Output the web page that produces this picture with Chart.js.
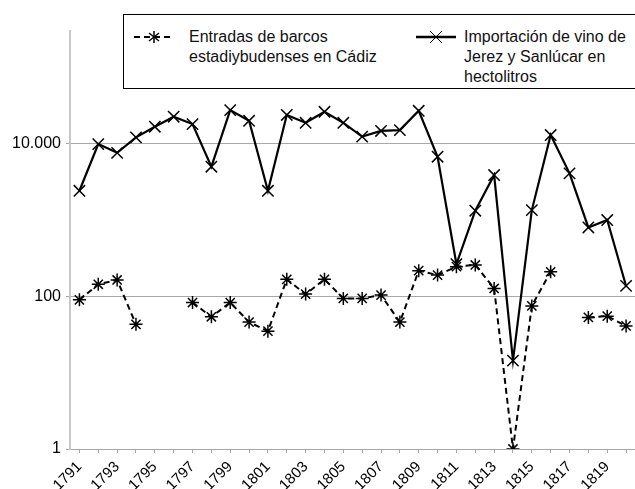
<!DOCTYPE html>
<html>
<head>
<meta charset="utf-8">
<script src="https://cdn.jsdelivr.net/npm/chart.js@4"></script>
<style>
  html, body { margin: 0; padding: 0; background: #fff; overflow: hidden; }
  #wrap { position: relative; width: 635px; height: 489px; overflow: hidden; }
  #myChart { position: absolute; left: 0; top: 0; }
  #legend {
    position: absolute; left: 123px; top: 14px; width: 530px; height: 73px;
    border: 1px solid #000; background: #fff;
    font-family: "Liberation Sans", Arial, sans-serif; font-size: 16px; line-height: 20px; color: #111;
  }
  .item { position: absolute; top: 12px; }
  .item svg { position: absolute; top: 0; }
  .item span { position: absolute; top: 0; white-space: nowrap; }
</style>
</head>
<body>
<div id="wrap">
  <canvas id="myChart" width="645" height="520"></canvas>
  <div id="legend">
    <div class="item" style="left:9px">
      <svg width="42" height="20" style="left:0">
        <line x1="1" y1="10" x2="41" y2="10" stroke="#000" stroke-width="2" stroke-dasharray="6,4"/>
        <g stroke="#000" stroke-width="1.5">
          <line x1="21" y1="4" x2="21" y2="16"/>
          <line x1="16" y1="6" x2="26" y2="14"/>
          <line x1="26" y1="6" x2="16" y2="14"/>
        </g>
      </svg>
      <span style="left:56px">Entradas de barcos<br>estadiybudenses en Cádiz</span>
    </div>
    <div class="item" style="left:291px">
      <svg width="42" height="20" style="left:0">
        <line x1="1" y1="10" x2="41" y2="10" stroke="#000" stroke-width="2.5"/>
        <g stroke="#000" stroke-width="1">
          <line x1="15" y1="4" x2="27" y2="16"/>
          <line x1="27" y1="4" x2="15" y2="16"/>
        </g>
      </svg>
      <span style="left:49px">Importación de vino de<br>Jerez y Sanlúcar en<br>hectolitros</span>
    </div>
  </div>
</div>
<script>
// years on the x axis
const years = ['1791','1792','1793','1794','1795','1796','1797','1798','1799','1800',
               '1801','1802','1803','1804','1805','1806','1807','1808','1809','1810',
               '1811','1812','1813','1814','1815','1816','1817','1818','1819','1820'];

// ships entering Cadiz (dashed)
const ships = [90, 144, 164, 43, null, null, 83, 54, 83, 46,
               35, 167, 107, 167, 94, 94, 104, 46, 217, 190,
               245, 258, 127, 1, 75, 210, null, 53, 55, 41];

// wine imports in hectolitres (solid)
const wine = [2420, 9900, 7600, 12100, 16700, 22600, 18100, 5000, 27600, 20000,
              2420, 23800, 18800, 26200, 18800, 12400, 14700, 15100, 27000, 6760,
              265, 1325, 3890, 14.4, 1350, 13000, 4090, 800, 1000, 137];

const yTicks = [1, 100, 10000];
const yTickLabels = ['1', '100', '10.000'];

Chart.defaults.font.family = '"Liberation Sans", Arial, sans-serif';
Chart.defaults.color = '#000';

const ctx = document.getElementById('myChart');
var chart = new Chart(ctx, {
    type: 'line',
    data: {
        labels: years,
        datasets: [
            {
                label: 'Entradas de barcos estadiybudenses en Cádiz',
                data: ships,
                borderColor: '#000',
                borderWidth: 2,
                borderDash: [6, 4],
                pointStyle: 'star',
                pointRadius: 6.5,
                pointBorderWidth: 1.5,
                pointBorderColor: '#000',
                pointBackgroundColor: '#000',
                spanGaps: false,
                tension: 0
            },
            {
                label: 'Importación de vino de Jerez y Sanlúcar en hectolitros',
                data: wine,
                borderColor: '#000',
                borderWidth: 2.2,
                pointStyle: 'crossRot',
                pointRadius: 8,
                pointBorderWidth: 1.5,
                pointBorderColor: '#000',
                tension: 0
            }
        ]
    },
    options: {
        responsive: false,
        animation: false,
        layout: { padding: { top: 31, left: 0, right: 0, bottom: 0 } },
        plugins: {
            legend: { display: false },
            tooltip: { enabled: false }
        },
        scales: {
            x: {
                offset: true,
                afterFit: function(s) { s.height = 71; },
                ticks: {
                    autoSkip: false,
                    maxRotation: 45,
                    minRotation: 45,
                    padding: 5,
                    font: { size: 15 },
                    callback: function(v, i) { return i % 2 === 0 ? years[i] : ''; }
                },
                grid: { drawOnChartArea: false, drawTicks: true, tickLength: 4, color: '#a8a8a8' },
                border: { color: '#a8a8a8', width: 1 }
            },
            y: {
                type: 'logarithmic',
                min: 1,
                max: 300000,
                afterBuildTicks: function(s) { s.ticks = yTicks.map(v => ({ value: v })); },
                afterFit: function(s) { s.width = 70; },
                ticks: {
                    padding: 5,
                    font: { size: 16 },
                    callback: function(v, i) { return yTickLabels[i]; }
                },
                grid: { color: '#a8a8a8', tickLength: 4, lineWidth: 1 },
                border: { color: '#c8c8c8', width: 2 }
            }
        }
    }
});
</script>
</body>
</html>
